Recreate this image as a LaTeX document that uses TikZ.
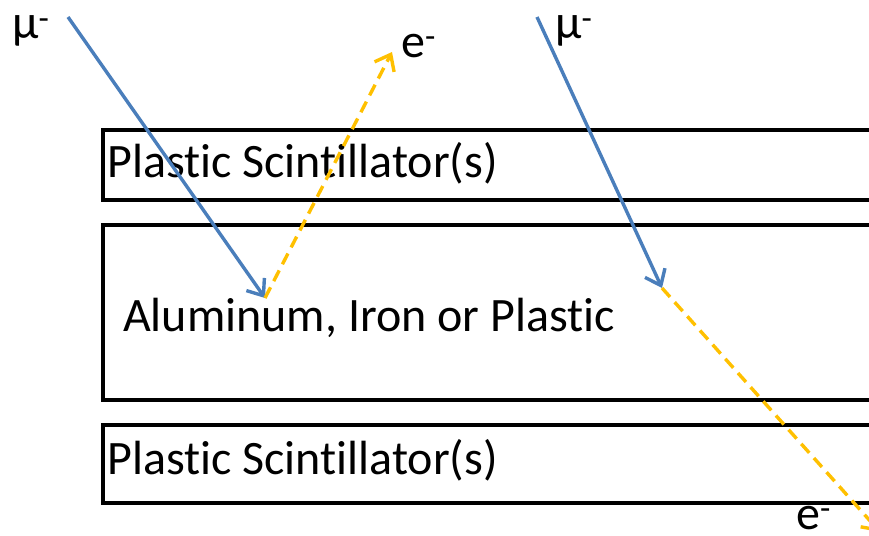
\documentclass[tikz,border=0pt]{standalone}
\usepackage{fontspec}
\setmainfont[Ligatures=NoCommon]{Carlito}
\usetikzlibrary{arrows.meta}

\definecolor{muBlue}{HTML}{4A7EBB}
\definecolor{eGold}{HTML}{FFC000}

\tikzset{
  layer/.style={draw=black, line width=4.5pt},
  muon/.style={draw=muBlue, line width=3.4pt, -{Straight Barb[length=14pt,width=22pt]}},
  electron/.style={draw=eGold, line width=3.4pt, dash pattern=on 12pt off 7pt,
    -{Straight Barb[length=14pt,width=22pt]}},
  lbl/.style={inner sep=0pt, font=\fontsize{48}{53}\selectfont},
}

\begin{document}
\begin{tikzpicture}[x=1pt,y=-1pt]
\useasboundingbox (0,0) rectangle (869,535);
\clip (0,0) rectangle (869,535);
% layers
\draw[layer] (103,130) rectangle (900,200);
\draw[layer] (103,225) rectangle (900,400);
\draw[layer] (103,425) rectangle (900,503);
\node[lbl, anchor=base west] (scintA) at (107,177) {Plastic Scintillator(s)};
\node[lbl, anchor=base west] (absorber) at (123,331) {Aluminum, Iron or Plastic};
\node[lbl, anchor=base west] (scintB) at (107,474) {Plastic Scintillator(s)};
% points
\coordinate (M1) at (68,17);
\coordinate (S1) at (265,298);
\coordinate (E1) at (392,52);
\coordinate (M2) at (537,17);
\coordinate (S2) at (662,288);
\coordinate (E2) at (880,532);
% tracks
\draw[muon] (M1) -- (S1);
\draw[electron] (S1) -- (E1);
\draw[muon] (M2) -- (S2);
\draw[electron] (S2) -- (E2);
% labels
\node[lbl, anchor=base west] (muA) at (12,39) {μ\textsuperscript{-}};
\node[lbl, anchor=base west] (eA) at (401,57) {e\textsuperscript{-}};
\node[lbl, anchor=base west] (muB) at (555,39) {μ\textsuperscript{-}};
\node[lbl, anchor=base west] (eB) at (796,529) {e\textsuperscript{-}};
\end{tikzpicture}
\end{document}
